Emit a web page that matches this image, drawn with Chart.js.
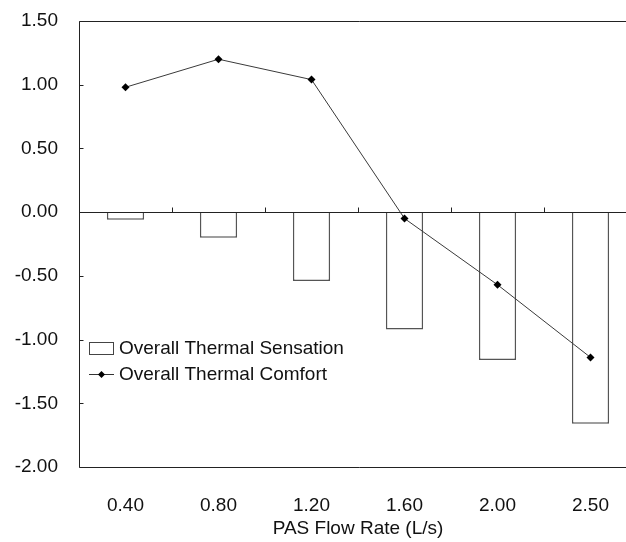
<!DOCTYPE html>
<html>
<head>
<meta charset="utf-8">
<script src="https://cdn.jsdelivr.net/npm/chart.js@4.4.0/dist/chart.umd.min.js"></script>
<style>
  html, body { margin: 0; padding: 0; background: #fff; overflow: hidden; }
  #wrap { position: relative; width: 645px; height: 542px; }
</style>
</head>
<body>
<div id="wrap"><canvas id="comfortChart"></canvas></div>
<script>
// PAS flow rate vs. overall thermal sensation / comfort votes
const flowRates = ["0.40", "0.80", "1.20", "1.60", "2.00", "2.50"];
const sensation = [-0.06, -0.20, -0.54, -0.92, -1.16, -1.66];
const comfort = [0.98, 1.20, 1.04, -0.05, -0.57, -1.14];
const yRange = [-2.0, 1.5];
const yStep = 0.5;

const FONT = '"Liberation Sans", Arial, sans-serif';
const INK = '#111';

// box, zero line and inward tick marks, like the old spreadsheet style
const framePlugin = {
  id: 'frame',
  afterDatasetsDraw(chart) {
    const { ctx, chartArea: a, scales: { x, y } } = chart;
    const px = v => Math.round(v) + 0.5;
    const zeroY = px(y.getPixelForValue(0));
    ctx.save();
    ctx.strokeStyle = '#222';
    ctx.lineWidth = 1;
    ctx.beginPath();
    ctx.moveTo(px(a.left), px(a.top));
    ctx.lineTo(a.right + 2, px(a.top));
    ctx.moveTo(px(a.left), px(a.top));
    ctx.lineTo(px(a.left), px(a.bottom));
    ctx.lineTo(a.right + 2, px(a.bottom));
    ctx.moveTo(px(a.left), zeroY);
    ctx.lineTo(a.right + 2, zeroY);
    // category dividers on the zero line
    for (let i = 1; i < flowRates.length; i++) {
      const xb = px((x.getPixelForValue(i - 1) + x.getPixelForValue(i)) / 2);
      ctx.moveTo(xb, zeroY);
      ctx.lineTo(xb, zeroY - 5);
    }
    // value ticks pointing into the plot
    y.ticks.forEach(t => {
      const yy = px(y.getPixelForValue(t.value));
      ctx.moveTo(px(a.left), yy);
      ctx.lineTo(px(a.left) + 4, yy);
    });
    ctx.stroke();
    ctx.restore();
  },
  afterDraw(chart) {
    const { ctx, chartArea: a } = chart;
    const ds = chart.data.datasets;
    const x0 = a.left + 10;
    const rows = [a.top + 327.5, a.top + 353.5];
    ctx.save();
    // bar swatch
    ctx.fillStyle = '#fff';
    ctx.strokeStyle = '#444';
    ctx.lineWidth = 1;
    ctx.fillRect(x0, rows[0] - 6.5, 25, 13);
    ctx.strokeRect(x0 + 0.5, rows[0] - 6, 24, 12);
    // line swatch with diamond marker
    ctx.strokeStyle = '#333';
    ctx.beginPath();
    ctx.moveTo(x0, rows[1]);
    ctx.lineTo(x0 + 25, rows[1]);
    ctx.stroke();
    ctx.fillStyle = '#000';
    ctx.beginPath();
    ctx.moveTo(x0 + 12.5, rows[1] - 3.5);
    ctx.lineTo(x0 + 16, rows[1]);
    ctx.lineTo(x0 + 12.5, rows[1] + 3.5);
    ctx.lineTo(x0 + 9, rows[1]);
    ctx.closePath();
    ctx.fill();
    ctx.fillStyle = INK;
    ctx.font = '19px ' + FONT;
    ctx.textBaseline = 'middle';
    ctx.textAlign = 'left';
    ctx.fillText(ds[1].label, x0 + 30, rows[0]);
    ctx.fillText(ds[0].label, x0 + 30, rows[1]);
    ctx.restore();
  }
};

new Chart(document.getElementById('comfortChart'), {
  data: {
    labels: flowRates,
    datasets: [
      {
        type: 'line',
        label: 'Overall Thermal Comfort',
        data: comfort,
        order: 0,
        borderColor: '#3a3a3a',
        borderWidth: 1,
        pointStyle: 'rectRot',
        pointRadius: 4,
        pointBackgroundColor: '#000',
        pointBorderColor: '#000',
        pointBorderWidth: 0,
        tension: 0
      },
      {
        type: 'bar',
        label: 'Overall Thermal Sensation',
        data: sensation,
        order: 1,
        backgroundColor: '#fff',
        borderColor: '#555',
        borderWidth: 1.5,
        categoryPercentage: 1,
        barPercentage: 0.4
      }
    ]
  },
  options: {
    responsive: true,
    maintainAspectRatio: false,
    animation: false,
    layout: { padding: { top: 21, right: 8, left: 0, bottom: 0 } },
    plugins: { legend: { display: false }, tooltip: { enabled: false } },
    scales: {
      x: {
        grid: { display: false },
        border: { display: false },
        ticks: { color: INK, font: { family: FONT, size: 19 }, padding: 19, maxRotation: 0 },
        title: {
          display: true,
          text: 'PAS Flow Rate (L/s)',
          color: INK,
          font: { family: FONT, size: 19 },
          padding: { top: 0, bottom: 2 }
        },
        afterFit(scale) { scale.height = 75; }
      },
      y: {
        min: yRange[0],
        max: yRange[1],
        grid: { display: false, drawTicks: false },
        border: { display: false },
        ticks: {
          stepSize: yStep,
          color: INK,
          padding: 21,
          font: { family: FONT, size: 19 },
          callback: v => Number(v).toFixed(2)
        },
        afterFit(scale) {
          scale.width = 79;
          // the label padding only pushes sideways, not into the top margin
          scale.paddingTop = 0;
          scale.paddingBottom = 0;
        }
      }
    }
  },
  plugins: [framePlugin]
});
</script>
</body>
</html>
